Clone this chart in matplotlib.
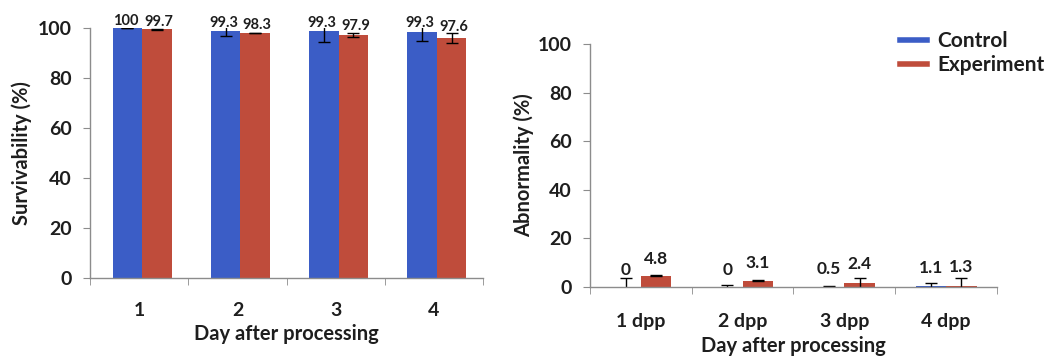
import numpy as np
import matplotlib.pyplot as plt
from matplotlib.ticker import FixedLocator, NullFormatter
from matplotlib.lines import Line2D

# ----------------------------------------------------------------------
# data
# ----------------------------------------------------------------------
dias_surv = ["1", "2", "3", "4"]
dias_abn = ["1 dpp", "2 dpp", "3 dpp", "4 dpp"]

# survivability (%)
surv_ctrl = [100.0, 98.9, 98.7, 98.3]
surv_exp = [99.5, 97.9, 97.1, 96.0]
surv_ctrl_err = [0.1, 2.0, 4.4, 3.5]
surv_exp_err = [0.2, 0.1, 0.9, 2.1]
surv_ctrl_lbl = ["100", "99.3", "99.3", "99.3"]
surv_exp_lbl = ["99.7", "98.3", "97.9", "97.6"]

# abnormality (%)
abn_ctrl = [0.0, 0.1, 0.1, 0.5]
abn_exp = [4.6, 2.6, 1.5, 0.5]
abn_ctrl_err = [3.8, 0.8, 0.2, 1.3]
abn_exp_err = [0.2, 0.2, 2.2, 3.2]
abn_ctrl_lbl = ["0", "0", "0.5", "1.1"]
abn_exp_lbl = ["4.8", "3.1", "2.4", "1.3"]

SERIES = ["Control", "Experiment"]

# ----------------------------------------------------------------------
AZUL = "#3B5DC6"
VERMELHO = "#BF4C3B"
CINZA = "#8C8C8C"
TEXTO = "#1E1E1E"
FONTE = "Lato"

plt.rcParams["font.family"] = [FONTE, "DejaVu Sans"]
plt.rcParams["font.weight"] = "bold"

fig = plt.figure(figsize=(10.52, 3.63), dpi=100)
ax1 = fig.add_axes([0.0856, 0.234, 0.3736, 0.689])
ax2 = fig.add_axes([0.5608, 0.2094, 0.3869, 0.6694])

largura = 0.3


def desenha(ax, cats, ctrl, exp, ctrl_err, exp_err, ctrl_lbl, exp_lbl,
            lbl_off, lbl_size, lbl_dx, pad_x, desloc=0.0):
    x = np.arange(1, len(cats) + 1) + desloc
    ek = dict(ecolor="black", elinewidth=1.0, capsize=4, capthick=1.0)
    ax.bar(x - largura / 2, ctrl, largura, color=AZUL, yerr=ctrl_err,
           error_kw=ek, label=SERIES[0], zorder=2)
    ax.bar(x + largura / 2, exp, largura, color=VERMELHO, yerr=exp_err,
           error_kw=ek, label=SERIES[1], zorder=2)

    # labels above the bars (values as printed in the picture)
    for xs, lbls, dx in [(x - largura / 2, ctrl_lbl, -lbl_dx), (x + largura / 2, exp_lbl, lbl_dx)]:
        for xi, lb in zip(xs, lbls):
            ax.annotate(lb, (xi, float(lb)), xytext=(dx, lbl_off), textcoords="offset points",
                        ha="center", va="center", fontsize=lbl_size, fontweight="bold",
                        color=TEXTO, annotation_clip=False)

    ax.set_xlim(0.5, len(cats) + 0.5)
    ax.set_ylim(0, 100)
    ax.set_yticks([0, 20, 40, 60, 80, 100])
    ax.set_xticks(np.arange(1, len(cats) + 1))
    ax.set_xticklabels(cats)
    ax.xaxis.set_minor_locator(FixedLocator(np.arange(0.5, len(cats) + 1, 1)))
    ax.xaxis.set_minor_formatter(NullFormatter())
    ax.tick_params(axis="x", which="major", length=0, pad=pad_x, labelsize=14)
    ax.tick_params(axis="x", which="minor", length=5, color=CINZA, direction="out")
    ax.tick_params(axis="y", length=5, color=CINZA, pad=8, labelsize=14)
    for lab in ax.get_xticklabels() + ax.get_yticklabels():
        lab.set_fontweight("bold")
        lab.set_color(TEXTO)

    for s in ["top", "right"]:
        ax.spines[s].set_visible(False)
    for s in ["left", "bottom"]:
        ax.spines[s].set_color(CINZA)
        ax.spines[s].set_linewidth(1.0)
    ax.set_xlabel("Day after processing", fontsize=14.5, fontweight="bold",
                  color=TEXTO, labelpad=4)


desenha(ax1, dias_surv, surv_ctrl, surv_exp, surv_ctrl_err, surv_exp_err,
        surv_ctrl_lbl, surv_exp_lbl, 5, 10.5, 1.5, 17, desloc=0.03)
ax1.set_ylabel("Survivability (%)", fontsize=14.5, fontweight="bold",
               color=TEXTO, labelpad=4)

desenha(ax2, dias_abn, abn_ctrl, abn_exp, abn_ctrl_err, abn_exp_err,
        abn_ctrl_lbl, abn_exp_lbl, 12, 12.5, 0, 19)
ax2.set_ylabel("Abnormality (%)", fontsize=14.5, fontweight="bold",
               color=TEXTO, labelpad=3)

# legend with line handles
alcas = [Line2D([0], [0], color=AZUL, lw=4), Line2D([0], [0], color=VERMELHO, lw=4)]
leg = fig.legend(alcas, SERIES, loc="upper left", bbox_to_anchor=(0.8555, 0.915),
                 frameon=False, fontsize=15, handlelength=1.3, handletextpad=0.5,
                 labelspacing=0.2, borderpad=0, borderaxespad=0)
for t in leg.get_texts():
    t.set_fontweight("bold")
    t.set_color(TEXTO)

fig.savefig("out.png", dpi=100)
